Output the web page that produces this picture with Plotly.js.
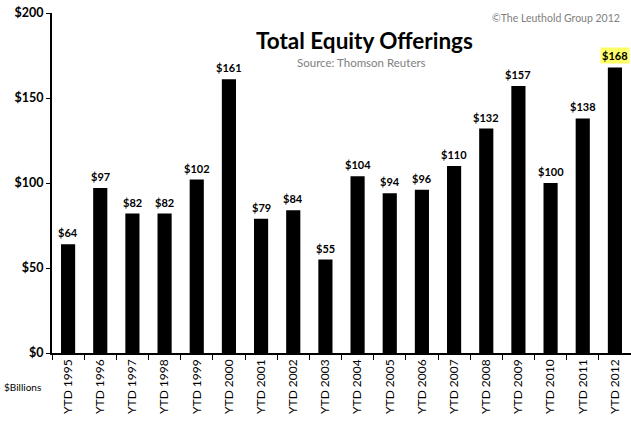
<!DOCTYPE html>
<html><head><meta charset="utf-8">
<script src="https://cdn.plot.ly/plotly-3.0.1.min.js"></script>
<style>html,body{margin:0;padding:0;background:#fff;}#chart{width:631px;height:435px;}</style>
</head><body><div id="chart"></div>
<script>
var categories = ["YTD 1995","YTD 1996","YTD 1997","YTD 1998","YTD 1999","YTD 2000","YTD 2001","YTD 2002","YTD 2003","YTD 2004","YTD 2005","YTD 2006","YTD 2007","YTD 2008","YTD 2009","YTD 2010","YTD 2011","YTD 2012"];
var values = [64, 97, 82, 82, 102, 161, 79, 84, 55, 104, 94, 96, 110, 132, 157, 100, 138, 168];
var yTickVals = [0, 50, 100, 150, 200];
var yTickText = ["$0", "$50", "$100", "$150", "$200"];
var highlightIndex = 17;

var font = "Lato, 'Open Sans', sans-serif";
var annotations = values.map(function(v, i) {
  return {
    x: categories[i], y: v, xref: 'x', yref: 'y',
    text: '$' + v, showarrow: false, yanchor: 'bottom', yshift: 3,
    font: {family: font, size: 11, color: '#000', weight: 'bold'},
    bgcolor: i === highlightIndex ? '#ffff66' : 'rgba(0,0,0,0)',
    borderpad: 1
  };
});
annotations.push(
  {xref:'paper', yref:'paper', x:0.54, y:0.92, text:'<b>Total Equity Offerings</b>', showarrow:false,
   font:{family:font, size:22.5, color:'#000'}, xanchor:'center', yanchor:'middle'},
  {xref:'paper', yref:'paper', x:0.535, y:0.855, text:'Source: Thomson Reuters', showarrow:false,
   font:{family:font, size:11.5, color:'#808080'}, xanchor:'center', yanchor:'middle'},
  {xref:'paper', yref:'paper', x:0.985, y:0.985, text:'©The Leuthold Group 2012', showarrow:false,
   font:{family:font, size:10.5, color:'#808080'}, xanchor:'right', yanchor:'middle'},
  {xref:'paper', yref:'paper', x:-0.087, y:-0.1, text:'$Billions', showarrow:false,
   font:{family:font, size:10, color:'#000'}, xanchor:'left', yanchor:'middle'}
);

var trace = {
  type: 'bar', x: categories, y: values,
  marker: {color: '#000'}, width: 0.44, hoverinfo: 'none'
};
var layout = {
  width: 631, height: 435,
  margin: {l: 52, r: 0, t: 13, b: 82},
  paper_bgcolor: '#fff', plot_bgcolor: '#fff',
  showlegend: false,
  xaxis: {
    type: 'category', tickangle: -90, ticks: 'outside', tickson: 'boundaries', ticklen: 5,
    tickcolor: '#000', showline: true, linecolor: '#000', linewidth: 1.5,
    tickfont: {family: font, size: 12, color: '#000'}, showgrid: false,
    range: [-0.5, 17.5]
  },
  yaxis: {
    range: [0, 200], tickvals: yTickVals, ticktext: yTickText,
    ticks: 'outside', ticklen: 4, tickcolor: '#000', showline: true, linecolor: '#000', linewidth: 2,
    tickfont: {family: font, size: 12.5, color: '#000', weight: 'bold'},
    showgrid: false, zeroline: false
  },
  annotations: annotations
};
Plotly.newPlot('chart', [trace], layout, {displayModeBar: false, staticPlot: true});
</script></body></html>
